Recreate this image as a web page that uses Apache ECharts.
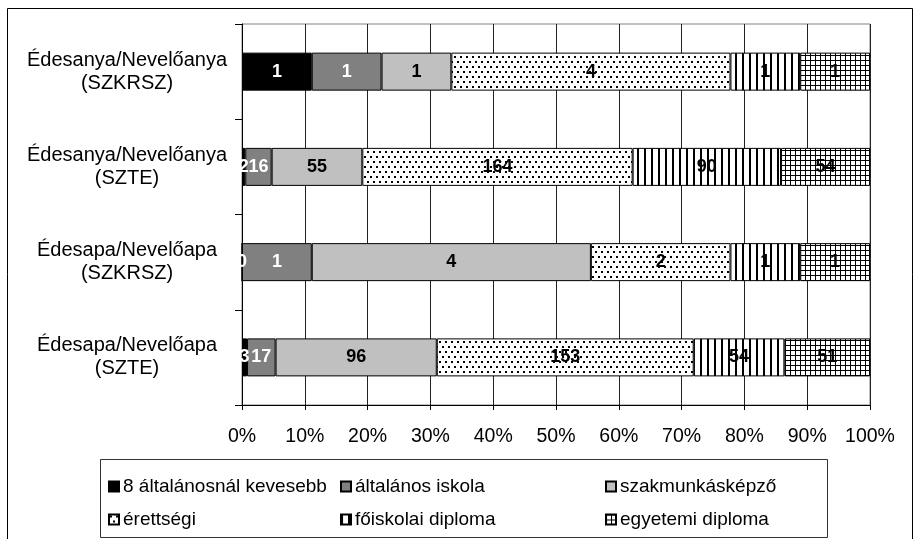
<!DOCTYPE html>
<html>
<head>
<meta charset="utf-8">
<script src="https://cdn.jsdelivr.net/npm/echarts@6/dist/echarts.min.js"></script>
<style>
  html, body { margin: 0; padding: 0; background: #fff; }
  #chart { width: 914px; height: 539px; }
</style>
</head>
<body>
<div id="chart"></div>
<script>
// categories, top to bottom
const categories = [
  'Édesanya/Nevelőanya\n(SZKRSZ)',
  'Édesanya/Nevelőanya\n(SZTE)',
  'Édesapa/Nevelőapa\n(SZKRSZ)',
  'Édesapa/Nevelőapa\n(SZTE)'
]
const seriesNames = [
  '8 általánosnál kevesebb',
  'általános iskola',
  'szakmunkásképző',
  'érettségi',
  'főiskolai diploma',
  'egyetemi diploma'
]
// counts shown on the segments
const kevesebb8 = [1, 2, 0, 3]
const altalanos = [1, 16, 1, 17]
const szakmunkas = [1, 55, 4, 96]
const erettsegi = [4, 164, 2, 153]
const foiskolai = [1, 90, 1, 54]
const egyetemi = [1, 54, 1, 51]
const counts = [kevesebb8, altalanos, szakmunkas, erettsegi, foiskolai, egyetemi]

const font = '"Liberation Sans", Arial, sans-serif'

function pattern(kind) {
  const c = document.createElement('canvas')
  const ctx = c.getContext('2d')
  if (kind === 'dots') {
    c.width = 6; c.height = 10
    ctx.fillStyle = '#fff'; ctx.fillRect(0, 0, 6, 10)
    ctx.fillStyle = '#000'
    ctx.fillRect(1, 1, 2, 2)
    ctx.fillRect(4, 6, 2, 2)
  } else if (kind === 'vlines') {
    c.width = 7; c.height = 4
    ctx.fillStyle = '#fff'; ctx.fillRect(0, 0, 7, 4)
    ctx.fillStyle = '#000'
    ctx.fillRect(0, 0, 2, 4)
  } else {
    c.width = 5; c.height = 5
    ctx.fillStyle = '#fff'; ctx.fillRect(0, 0, 5, 5)
    ctx.fillStyle = '#000'
    ctx.fillRect(0, 0, 5, 1)
    ctx.fillRect(0, 0, 1, 5)
  }
  return { image: c, repeat: 'repeat' }
}

const fills = ['#000000', '#808080', '#c0c0c0', pattern('dots'), pattern('vlines'), pattern('grid')]
const labelColors = ['#fff', '#fff', '#000', '#000', '#000', '#000']

const totals = categories.map((c, i) => counts.reduce((s, arr) => s + arr[i], 0))

const series = seriesNames.map((name, si) => ({
  name: name,
  type: 'bar',
  stack: 'total',
  barWidth: 38,
  data: counts[si].map((n, ci) => ({ value: n / totals[ci] * 100, count: n })),
  itemStyle: { color: fills[si], borderColor: '#000', borderWidth: 1 },
  label: {
    show: true,
    position: 'inside',
    color: labelColors[si],
    fontFamily: font,
    fontWeight: 'bold',
    fontSize: 18,
    textBorderWidth: 0,
    formatter: p => p.data.count
  }
}))

// legend placed as a 3x2 grid like the original
const legendCols = [108, 340, 605]
const legendRows = [477, 510]
const legends = seriesNames.map((name, i) => ({
  data: [name],
  left: legendCols[i % 3],
  top: legendRows[Math.floor(i / 3)],
  itemWidth: 10,
  itemHeight: 10,
  itemGap: 0,
  padding: 0,
  icon: 'rect',
  textStyle: { fontFamily: font, fontSize: 19, color: '#000', padding: [0, 0, 0, -1] }
}))

const chart = echarts.init(document.getElementById('chart'))
chart.setOption({
  backgroundColor: '#fff',
  animation: false,
  textStyle: { fontFamily: font },
  graphic: [
    { type: 'rect', shape: { x: 7.5, y: 8.5, width: 905, height: 545 }, style: { fill: 'none', stroke: '#000', lineWidth: 1 }, z: -1 },
    { type: 'rect', shape: { x: 100.5, y: 459.5, width: 727, height: 78 }, style: { fill: 'none', stroke: '#333', lineWidth: 1 }, z: -1 }
  ],
  legend: legends,
  grid: {
    left: 242,
    right: 44,
    top: 24,
    bottom: 134,
    show: true,
    borderColor: '#808080',
    borderWidth: 1
  },
  xAxis: {
    type: 'value',
    min: 0,
    max: 100,
    interval: 10,
    axisLine: { show: true, lineStyle: { color: '#000' } },
    axisTick: { show: true, length: 5, lineStyle: { color: '#000' } },
    splitLine: { show: true, lineStyle: { color: '#222', width: 1 } },
    axisLabel: { formatter: '{value}%', color: '#000', fontSize: 19.5, fontFamily: font, margin: 22 }
  },
  yAxis: {
    type: 'category',
    inverse: true,
    data: categories,
    axisLine: { show: true, lineStyle: { color: '#000' } },
    axisTick: { show: true, length: 7, lineStyle: { color: '#000' } },
    axisLabel: {
      color: '#000',
      fontSize: 20,
      lineHeight: 23,
      fontFamily: font,
      align: 'center',
      margin: 115
    }
  },
  series: series
})
</script>
</body>
</html>
